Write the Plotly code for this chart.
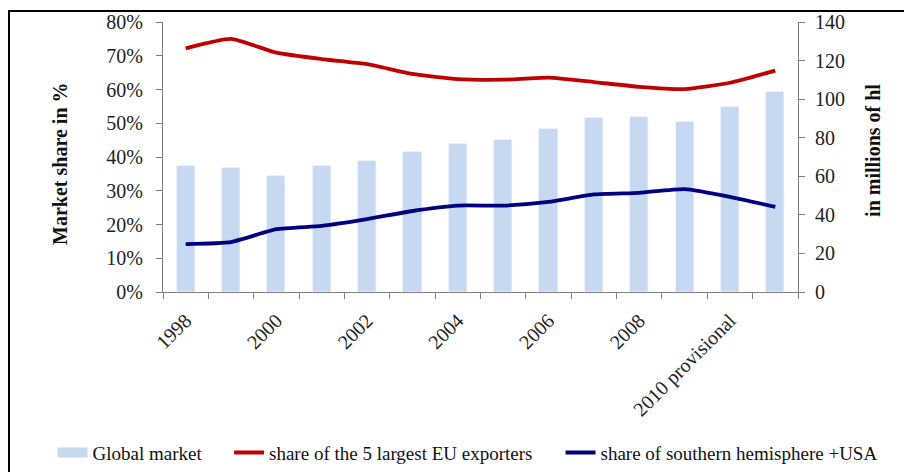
import plotly.graph_objects as go

years = ["1998", "1999", "2000", "2001", "2002", "2003", "2004", "2005",
         "2006", "2007", "2008", "2009", "2010 provisional", "2011"]
global_market = [65.3, 64.4, 60.4, 65.3, 68.1, 72.5, 76.8, 78.9,
                 84.6, 90.0, 90.9, 88.1, 95.8, 103.6]          # millions of hl
eu5_share = [72.2, 75.0, 70.9, 69.0, 67.5, 64.6, 63.1, 62.9,
             63.5, 62.2, 60.8, 60.1, 62.0, 65.6]               # %
south_share = [14.2, 14.8, 18.6, 19.6, 21.6, 24.0, 25.6, 25.6,
               26.7, 28.9, 29.4, 30.5, 28.2, 25.2]             # %

x = list(range(len(years)))
FONT = "Liberation Serif, Times New Roman, serif"
BAR_C = "#C6D9F1"
RED = "#C00000"
BLUE = "#000080"
AX = "#808080"

fig = go.Figure()
fig.add_trace(go.Bar(x=x, y=global_market, width=0.4, marker_color=BAR_C,
                     yaxis="y", showlegend=False, name="Global market"))
# legend swatch for the bars
fig.add_trace(go.Scatter(x=[None], y=[None], mode="lines", name="Global market",
                         line=dict(color=BAR_C, width=11), legend="legend"))
fig.add_trace(go.Scatter(x=x, y=eu5_share, mode="lines", yaxis="y2",
                         name="share of the 5 largest EU exporters",
                         line=dict(color=RED, width=3.8, shape="spline", smoothing=0.5),
                         legend="legend2"))
fig.add_trace(go.Scatter(x=x, y=south_share, mode="lines", yaxis="y2",
                         name="share of southern hemisphere +USA",
                         line=dict(color=BLUE, width=3.8, shape="spline", smoothing=0.5),
                         legend="legend3"))

tickfont = dict(family=FONT, size=20, color="#222")
legfont = dict(family=FONT, size=19, color="#111")
leg_common = dict(orientation="h", yanchor="middle", y=-0.595, xanchor="left",
                  font=legfont, bgcolor="rgba(0,0,0,0)", itemwidth=30)

fig.update_layout(
    width=904, height=472,
    margin=dict(l=163, r=106, t=22, b=180, autoexpand=False),
    paper_bgcolor="white", plot_bgcolor="white",
    bargap=0,
    xaxis=dict(range=[-0.5, len(years) - 0.5], tickmode="array",
               tickvals=x[::2], ticktext=years[::2], tickangle=-45,
               ticks="", showgrid=False, zeroline=False, automargin=False,
               showline=True, linecolor=AX, linewidth=1,
               tickfont=tickfont, ticklabelstandoff=8,
               minor=dict(ticks="outside", tick0=-0.5, dtick=1, ticklen=6,
                          tickcolor=AX, showgrid=False)),
    yaxis=dict(side="right", range=[0, 140], dtick=20, showgrid=False,
               zeroline=False, showline=True, linecolor=AX, linewidth=1,
               ticks="outside", ticklen=6, tickcolor=AX, tickfont=tickfont,
               ticklabelstandoff=6, automargin=False),
    yaxis2=dict(side="left", overlaying="y", range=[0, 80], dtick=10,
                ticksuffix="%", showgrid=False, zeroline=False,
                showline=True, linecolor=AX, linewidth=1, automargin=False,
                ticks="outside", ticklen=6, tickcolor=AX, tickfont=tickfont,
                ticklabelstandoff=9),
    legend=dict(x=-0.174, **leg_common),
    legend2=dict(x=0.104, **leg_common),
    legend3=dict(x=0.626, **leg_common),
    annotations=[
        dict(text="<b>Market share in %</b>", textangle=-90, xref="paper", yref="paper",
             x=-0.162, y=0.475, xanchor="center", yanchor="middle", showarrow=False,
             font=dict(family=FONT, size=20, color="#111")),
        dict(text="<b>in millions of hl</b>", textangle=-90, xref="paper", yref="paper",
             x=1.118, y=0.526, xanchor="center", yanchor="middle", showarrow=False,
             font=dict(family=FONT, size=20, color="#111")),
    ],
    shapes=[
        dict(type="rect", xref="paper", yref="paper", x0=-0.2425, x1=1.5,
             y0=-3, y1=1.0407, line=dict(color="black", width=2), layer="below"),
    ],
)

fig.write_html("out.html", config={"displayModeBar": False},
               post_script="document.body.style.margin='0';document.body.style.overflow='hidden';")
